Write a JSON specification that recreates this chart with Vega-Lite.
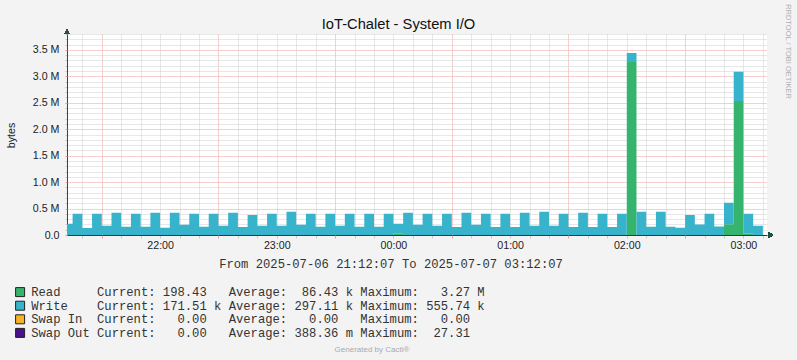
{
  "$schema": "https://vega.github.io/schema/vega-lite/v6.json",
  "width": 700,
  "height": 201,
  "autosize": {"type": "none"},
  "padding": {"left": 67, "top": 34, "right": 30, "bottom": 125},
  "background": "#f3f3f3",
  "title": {"text": "Generated by Cacti®", "orient": "bottom", "anchor": "middle", "frame": "group", "dx": -45, "offset": 6, "fontSize": 8, "fontWeight": "normal", "color": "#aaaaaa", "font": "Liberation Sans"},
  "data": {"values": [
    {"t": "2025-07-06T21:12:07", "Read": 0, "Write": 214000},
    {"t": "2025-07-06T21:15:00", "Read": 0, "Write": 403000},
    {"t": "2025-07-06T21:20:00", "Read": 0, "Write": 132000},
    {"t": "2025-07-06T21:25:00", "Read": 0, "Write": 403000},
    {"t": "2025-07-06T21:30:00", "Read": 0, "Write": 177000},
    {"t": "2025-07-06T21:35:00", "Read": 0, "Write": 422000},
    {"t": "2025-07-06T21:40:00", "Read": 0, "Write": 158000},
    {"t": "2025-07-06T21:45:00", "Read": 0, "Write": 403000},
    {"t": "2025-07-06T21:50:00", "Read": 0, "Write": 158000},
    {"t": "2025-07-06T21:55:00", "Read": 0, "Write": 422000},
    {"t": "2025-07-06T22:00:00", "Read": 0, "Write": 139000},
    {"t": "2025-07-06T22:05:00", "Read": 0, "Write": 422000},
    {"t": "2025-07-06T22:10:00", "Read": 0, "Write": 196000},
    {"t": "2025-07-06T22:15:00", "Read": 0, "Write": 403000},
    {"t": "2025-07-06T22:20:00", "Read": 0, "Write": 155000},
    {"t": "2025-07-06T22:25:00", "Read": 0, "Write": 403000},
    {"t": "2025-07-06T22:30:00", "Read": 0, "Write": 177000},
    {"t": "2025-07-06T22:35:00", "Read": 0, "Write": 422000},
    {"t": "2025-07-06T22:40:00", "Read": 0, "Write": 151000},
    {"t": "2025-07-06T22:45:00", "Read": 0, "Write": 378000},
    {"t": "2025-07-06T22:50:00", "Read": 0, "Write": 177000},
    {"t": "2025-07-06T22:55:00", "Read": 0, "Write": 403000},
    {"t": "2025-07-06T23:00:00", "Read": 0, "Write": 177000},
    {"t": "2025-07-06T23:05:00", "Read": 0, "Write": 441000},
    {"t": "2025-07-06T23:10:00", "Read": 0, "Write": 196000},
    {"t": "2025-07-06T23:15:00", "Read": 0, "Write": 403000},
    {"t": "2025-07-06T23:20:00", "Read": 0, "Write": 158000},
    {"t": "2025-07-06T23:25:00", "Read": 0, "Write": 403000},
    {"t": "2025-07-06T23:30:00", "Read": 0, "Write": 177000},
    {"t": "2025-07-06T23:35:00", "Read": 0, "Write": 403000},
    {"t": "2025-07-06T23:40:00", "Read": 0, "Write": 158000},
    {"t": "2025-07-06T23:45:00", "Read": 0, "Write": 403000},
    {"t": "2025-07-06T23:50:00", "Read": 0, "Write": 158000},
    {"t": "2025-07-06T23:55:00", "Read": 0, "Write": 403000},
    {"t": "2025-07-07T00:00:00", "Read": 24000, "Write": 190000},
    {"t": "2025-07-07T00:05:00", "Read": 0, "Write": 422000},
    {"t": "2025-07-07T00:10:00", "Read": 0, "Write": 196000},
    {"t": "2025-07-07T00:15:00", "Read": 0, "Write": 403000},
    {"t": "2025-07-07T00:20:00", "Read": 0, "Write": 177000},
    {"t": "2025-07-07T00:25:00", "Read": 0, "Write": 403000},
    {"t": "2025-07-07T00:30:00", "Read": 0, "Write": 151000},
    {"t": "2025-07-07T00:35:00", "Read": 0, "Write": 422000},
    {"t": "2025-07-07T00:40:00", "Read": 0, "Write": 196000},
    {"t": "2025-07-07T00:45:00", "Read": 0, "Write": 403000},
    {"t": "2025-07-07T00:50:00", "Read": 0, "Write": 151000},
    {"t": "2025-07-07T00:55:00", "Read": 0, "Write": 403000},
    {"t": "2025-07-07T01:00:00", "Read": 0, "Write": 151000},
    {"t": "2025-07-07T01:05:00", "Read": 0, "Write": 422000},
    {"t": "2025-07-07T01:10:00", "Read": 0, "Write": 177000},
    {"t": "2025-07-07T01:15:00", "Read": 0, "Write": 441000},
    {"t": "2025-07-07T01:20:00", "Read": 0, "Write": 177000},
    {"t": "2025-07-07T01:25:00", "Read": 0, "Write": 403000},
    {"t": "2025-07-07T01:30:00", "Read": 0, "Write": 151000},
    {"t": "2025-07-07T01:35:00", "Read": 0, "Write": 422000},
    {"t": "2025-07-07T01:40:00", "Read": 0, "Write": 151000},
    {"t": "2025-07-07T01:45:00", "Read": 0, "Write": 403000},
    {"t": "2025-07-07T01:50:00", "Read": 0, "Write": 151000},
    {"t": "2025-07-07T01:55:00", "Read": 0, "Write": 403000},
    {"t": "2025-07-07T02:00:00", "Read": 3270000, "Write": 170000},
    {"t": "2025-07-07T02:05:00", "Read": 0, "Write": 441000},
    {"t": "2025-07-07T02:10:00", "Read": 0, "Write": 158000},
    {"t": "2025-07-07T02:15:00", "Read": 0, "Write": 441000},
    {"t": "2025-07-07T02:20:00", "Read": 0, "Write": 158000},
    {"t": "2025-07-07T02:25:00", "Read": 0, "Write": 135000},
    {"t": "2025-07-07T02:30:00", "Read": 0, "Write": 380000},
    {"t": "2025-07-07T02:35:00", "Read": 0, "Write": 199000},
    {"t": "2025-07-07T02:40:00", "Read": 0, "Write": 400000},
    {"t": "2025-07-07T02:45:00", "Read": 0, "Write": 161000},
    {"t": "2025-07-07T02:50:00", "Read": 205000, "Write": 405000},
    {"t": "2025-07-07T02:55:00", "Read": 2535000, "Write": 550000},
    {"t": "2025-07-07T03:00:00", "Read": 22000, "Write": 380000},
    {"t": "2025-07-07T03:05:00", "Read": 0, "Write": 177000},
    {"t": "2025-07-07T03:10:00", "Read": 0, "Write": 0}
  ]},
  "transform": [{"fold": ["Read", "Write"]}],
  "layer": [
    {
      "mark": {"type": "area", "interpolate": "step-after"},
      "encoding": {
        "x": {
          "field": "t", "type": "temporal",
          "scale": {"domain": [{"year": 2025, "month": 7, "date": 6, "hours": 21, "minutes": 12, "seconds": 7}, {"year": 2025, "month": 7, "date": 7, "hours": 3, "minutes": 12, "seconds": 7}]},
          "axis": {
            "orient": "bottom",
            "values": [
              {"year": 2025, "month": 7, "date": 6, "hours": 21, "minutes": 20},
              {"year": 2025, "month": 7, "date": 6, "hours": 21, "minutes": 40},
              {"year": 2025, "month": 7, "date": 6, "hours": 21, "minutes": 50},
              {"year": 2025, "month": 7, "date": 6, "hours": 22, "minutes": 0},
              {"year": 2025, "month": 7, "date": 6, "hours": 22, "minutes": 10},
              {"year": 2025, "month": 7, "date": 6, "hours": 22, "minutes": 20},
              {"year": 2025, "month": 7, "date": 6, "hours": 22, "minutes": 40},
              {"year": 2025, "month": 7, "date": 6, "hours": 22, "minutes": 50},
              {"year": 2025, "month": 7, "date": 6, "hours": 23, "minutes": 0},
              {"year": 2025, "month": 7, "date": 6, "hours": 23, "minutes": 10},
              {"year": 2025, "month": 7, "date": 6, "hours": 23, "minutes": 20},
              {"year": 2025, "month": 7, "date": 6, "hours": 23, "minutes": 40},
              {"year": 2025, "month": 7, "date": 6, "hours": 23, "minutes": 50},
              {"year": 2025, "month": 7, "date": 7, "hours": 0, "minutes": 0},
              {"year": 2025, "month": 7, "date": 7, "hours": 0, "minutes": 10},
              {"year": 2025, "month": 7, "date": 7, "hours": 0, "minutes": 20},
              {"year": 2025, "month": 7, "date": 7, "hours": 0, "minutes": 40},
              {"year": 2025, "month": 7, "date": 7, "hours": 0, "minutes": 50},
              {"year": 2025, "month": 7, "date": 7, "hours": 1, "minutes": 0},
              {"year": 2025, "month": 7, "date": 7, "hours": 1, "minutes": 10},
              {"year": 2025, "month": 7, "date": 7, "hours": 1, "minutes": 20},
              {"year": 2025, "month": 7, "date": 7, "hours": 1, "minutes": 40},
              {"year": 2025, "month": 7, "date": 7, "hours": 1, "minutes": 50},
              {"year": 2025, "month": 7, "date": 7, "hours": 2, "minutes": 0},
              {"year": 2025, "month": 7, "date": 7, "hours": 2, "minutes": 10},
              {"year": 2025, "month": 7, "date": 7, "hours": 2, "minutes": 20},
              {"year": 2025, "month": 7, "date": 7, "hours": 2, "minutes": 40},
              {"year": 2025, "month": 7, "date": 7, "hours": 2, "minutes": 50},
              {"year": 2025, "month": 7, "date": 7, "hours": 3, "minutes": 0},
              {"year": 2025, "month": 7, "date": 7, "hours": 3, "minutes": 10}
            ],
            "labelExpr": "minutes(datum.value) == 0 ? timeFormat(datum.value, '%H:%M') : ''",
            "labelOverlap": false, "labelFlush": false,
            "labelFontSize": 10.67, "labelColor": "#222222", "labelPadding": 2,
            "tickSize": 3, "tickColor": "#c8c8c8",
            "grid": true, "gridDash": [1, 1], "gridColor": "#cfcfcf",
            "domainColor": "#35305a", "domainWidth": 1,
            "title": "From 2025-07-06 21:12:07 To 2025-07-07 03:12:07",
            "titleFont": "Liberation Mono", "titleFontSize": 12.2, "titleFontWeight": "normal", "titleColor": "#333333",
            "titleX": 323.5, "titleY": 28, "titleBaseline": "middle", "titleAlign": "center"
          }
        },
        "y": {
          "field": "value", "type": "quantitative", "stack": "zero",
          "scale": {"domain": [0, 3800000], "nice": false},
          "axis": {
            "orient": "left",
            "values": [100000, 200000, 300000, 400000, 600000, 700000, 800000, 900000, 1100000, 1200000, 1300000, 1400000, 1600000, 1700000, 1800000, 1900000, 2100000, 2200000, 2300000, 2400000, 2600000, 2700000, 2800000, 2900000, 3100000, 3200000, 3300000, 3400000, 3600000, 3700000, 3800000],
            "labels": false,
            "tickSize": 2, "tickColor": "#c8c8c8",
            "grid": true, "gridDash": [1, 1], "gridColor": "#cfcfcf",
            "domainColor": "#2c4d43", "domainWidth": 1,
            "title": "RRDTOOL / TOBI OETIKER", "titleFontSize": 7.5, "titleFontWeight": "normal", "titleColor": "#b0b0b0",
            "titleAngle": 90, "titleX": 720.5, "titleY": 17, "titleBaseline": "middle", "titleAlign": "center"
          }
        },
        "color": {
          "field": "key", "type": "nominal",
          "scale": {"domain": ["Read", "Write", "Swap In", "Swap Out"], "range": ["#34b46d", "#38b3cc", "#f8b225", "#4b1090"]},
          "legend": {
            "orient": "none", "legendX": -53, "legendY": 252, "title": null,
            "symbolType": "square", "symbolSize": 81, "symbolStrokeColor": "#222222", "symbolStrokeWidth": 1, "symbolOpacity": 1,
            "labelFont": "Liberation Mono", "labelFontSize": 12.2, "labelColor": "#333333", "labelOffset": 5,
            "rowPadding": -0.4, "labelLimit": 800, "padding": 0,
            "labelExpr": "datum.label == 'Read' ? 'Read\u00a0\u00a0\u00a0\u00a0\u00a0Current:\u00a0198.43\u00a0\u00a0\u00a0Average:\u00a0\u00a086.43\u00a0k\u00a0Maximum:\u00a0\u00a0\u00a03.27\u00a0M' : datum.label == 'Write' ? 'Write\u00a0\u00a0\u00a0\u00a0Current:\u00a0171.51\u00a0k\u00a0Average:\u00a0297.11\u00a0k\u00a0Maximum:\u00a0555.74\u00a0k' : datum.label == 'Swap In' ? 'Swap\u00a0In\u00a0\u00a0Current:\u00a0\u00a0\u00a00.00\u00a0\u00a0\u00a0Average:\u00a0\u00a0\u00a00.00\u00a0\u00a0\u00a0Maximum:\u00a0\u00a0\u00a00.00' : 'Swap\u00a0Out\u00a0Current:\u00a0\u00a0\u00a00.00\u00a0\u00a0\u00a0Average:\u00a0388.36\u00a0m\u00a0Maximum:\u00a0\u00a027.31'"
          }
        },
        "order": {"field": "key", "sort": "ascending"}
      }
    },
    {
      "mark": {"type": "point", "opacity": 0},
      "encoding": {
        "x": {
          "field": "t", "type": "temporal",
          "scale": {"domain": [{"year": 2025, "month": 7, "date": 6, "hours": 21, "minutes": 12, "seconds": 7}, {"year": 2025, "month": 7, "date": 7, "hours": 3, "minutes": 12, "seconds": 7}]},
          "axis": {
            "orient": "bottom",
            "values": [
              {"year": 2025, "month": 7, "date": 6, "hours": 21, "minutes": 30},
              {"year": 2025, "month": 7, "date": 6, "hours": 22, "minutes": 30},
              {"year": 2025, "month": 7, "date": 6, "hours": 23, "minutes": 30},
              {"year": 2025, "month": 7, "date": 7, "hours": 0, "minutes": 30},
              {"year": 2025, "month": 7, "date": 7, "hours": 1, "minutes": 30},
              {"year": 2025, "month": 7, "date": 7, "hours": 2, "minutes": 30}
            ],
            "labels": false, "domain": false,
            "tickSize": 3, "tickColor": "#e89a9a",
            "grid": true, "gridDash": [1, 1], "gridColor": "#eda0a0",
            "title": "IoT-Chalet - System I/O", "titleX": 331, "titleY": -207, "titleBaseline": "alphabetic", "titleAlign": "center",
            "titleFontSize": 14.7, "titleFontWeight": "normal", "titleColor": "#111111", "titleFont": "Liberation Sans"
          }
        },
        "y": {
          "field": "value", "type": "quantitative",
          "scale": {"domain": [0, 3800000], "nice": false},
          "axis": {
            "orient": "left",
            "values": [0, 500000, 1000000, 1500000, 2000000, 2500000, 3000000, 3500000],
            "labelExpr": "datum.value == 0 ? '0.0' : format(datum.value / 1000000, '.1f') + ' M'",
            "labelOverlap": false, "labelFlush": false,
            "labelFontSize": 10.67, "labelColor": "#222222", "labelPadding": 6,
            "tickSize": 2, "tickColor": "#e89a9a",
            "grid": true, "gridDash": [1, 1], "gridColor": "#eda0a0",
            "domain": false,
            "title": "bytes", "titleFontSize": 10.67, "titleFontWeight": "normal", "titleColor": "#222222",
            "titleAngle": -90, "titleX": -56, "titleY": 101, "titleBaseline": "middle", "titleAlign": "center"
          }
        }
      }
    },
    {
      "mark": {"type": "point", "shape": "triangle-up", "filled": true, "size": 22, "color": "#2c4d43", "opacity": 1},
      "encoding": {
        "x": {"datum": {"year": 2025, "month": 7, "date": 6, "hours": 21, "minutes": 12, "seconds": 7}, "type": "temporal", "axis": null,
          "scale": {"domain": [{"year": 2025, "month": 7, "date": 6, "hours": 21, "minutes": 12, "seconds": 7}, {"year": 2025, "month": 7, "date": 7, "hours": 3, "minutes": 12, "seconds": 7}]}},
        "y": {"datum": 3850000, "type": "quantitative", "axis": null, "scale": {"domain": [0, 3800000], "nice": false}}
      }
    },
    {
      "mark": {"type": "point", "shape": "triangle-right", "filled": true, "size": 22, "color": "#2c4d43", "opacity": 1},
      "encoding": {
        "x": {"datum": {"year": 2025, "month": 7, "date": 7, "hours": 3, "minutes": 14, "seconds": 10}, "type": "temporal", "axis": null,
          "scale": {"domain": [{"year": 2025, "month": 7, "date": 6, "hours": 21, "minutes": 12, "seconds": 7}, {"year": 2025, "month": 7, "date": 7, "hours": 3, "minutes": 12, "seconds": 7}]}},
        "y": {"datum": 0, "type": "quantitative", "axis": null, "scale": {"domain": [0, 3800000], "nice": false}}
      }
    }
  ],
  "resolve": {"axis": {"x": "independent", "y": "independent"}},
  "config": {
    "font": "Liberation Sans",
    "view": {"fill": "#ffffff", "stroke": null}
  }
}
